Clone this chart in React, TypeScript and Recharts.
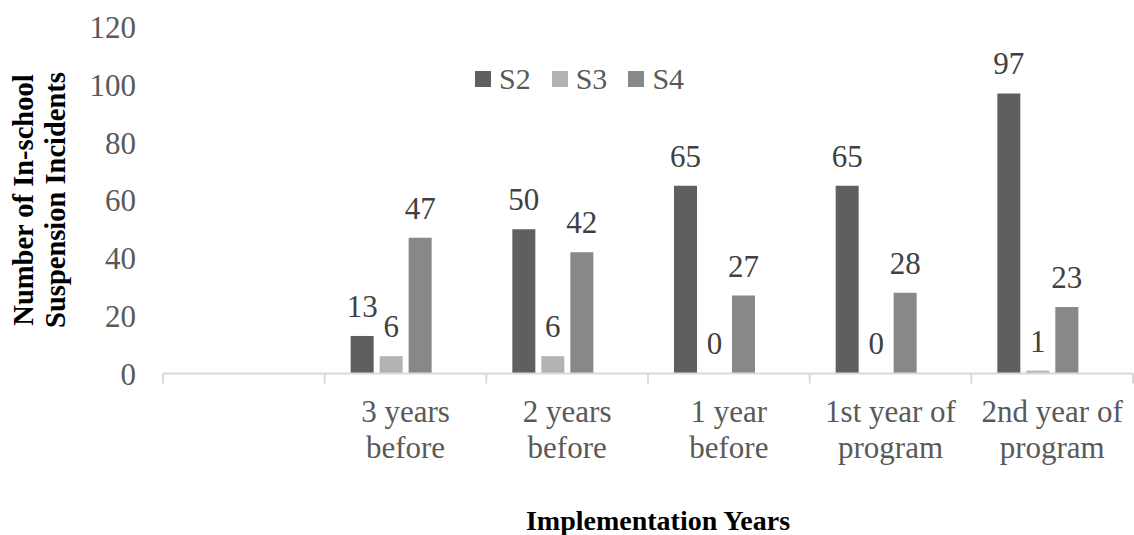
import React from "react";
import { BarChart, Bar, XAxis, YAxis, LabelList, Legend, Label } from "recharts";

// Categories (first slot intentionally blank) and series values
const years = [
  "",
  "3 years\nbefore",
  "2 years\nbefore",
  "1 year\nbefore",
  "1st year of\nprogram",
  "2nd year of\nprogram",
];
const s2 = [null, 13, 50, 65, 65, 97];
const s3 = [null, 6, 6, 0, 0, 1];
const s4 = [null, 47, 42, 27, 28, 23];
// fourth slot in each group is kept empty
const spare = [null, null, null, null, null, null];
const yTicks = [0, 20, 40, 60, 80, 100, 120];

const data = years.map((year, i) => ({
  year,
  S2: s2[i],
  S3: s3[i],
  S4: s4[i],
  spare: spare[i],
}));

const FONT = '"Liberation Serif", "Times New Roman", serif';
const TICK_COLOR = "#595959";
const LABEL_COLOR = "#404040";
const AXIS_COLOR = "#d9d9d9";

const W = 1134;
const H = 535;
const MARGIN = { top: 27, right: 1, bottom: 0, left: 0 };
const Y_AXIS_W = 163;
const X_AXIS_H = 161.5;
const PLOT_W = W - MARGIN.left - MARGIN.right - Y_AXIS_W;

const CategoryTick = (props: any) => {
  const { x, y, payload, index } = props;
  const half =
    payload && typeof payload.offset === "number" && payload.offset > 0
      ? payload.offset
      : PLOT_W / years.length / 2;
  const lines = String(payload.value).split("\n");
  return (
    <g>
      <line x1={x - half} x2={x - half} y1={y} y2={y + 10} stroke={AXIS_COLOR} strokeWidth={2} />
      {index === years.length - 1 && (
        <line x1={x + half} x2={x + half} y1={y} y2={y + 10} stroke={AXIS_COLOR} strokeWidth={2} />
      )}
      {lines.map((ln, i) => (
        <text
          key={i}
          x={x}
          y={y + 48 + i * 36}
          textAnchor="middle"
          fill={TICK_COLOR}
          fontSize={31}
          style={{ fontFamily: FONT }}
        >
          {ln}
        </text>
      ))}
    </g>
  );
};

const ValueTick = (props: any) => {
  const { x, y, payload } = props;
  return (
    <text
      x={x}
      y={y}
      dy={11}
      textAnchor="end"
      fill={TICK_COLOR}
      fontSize={31}
      style={{ fontFamily: FONT }}
    >
      {payload.value}
    </text>
  );
};

const BarValue = (props: any) => {
  const { x, y, width, height, value } = props;
  if (value === null || value === undefined) return null;
  // labels sit above the bar's top edge (baseline for zero-height bars)
  const top = Math.min(Number(y), Number(y) + Number(height || 0));
  return (
    <text
      x={Number(x) + Number(width) / 2}
      y={top - 19}
      textAnchor="middle"
      fill={LABEL_COLOR}
      fontSize={31}
      style={{ fontFamily: FONT }}
    >
      {value}
    </text>
  );
};

const YTitle = () => {
  const cy = 200;
  const common = {
    textAnchor: "middle" as const,
    fontSize: 28.5,
    fontWeight: "bold" as const,
    fill: "#000",
    style: { fontFamily: FONT },
  };
  return (
    <g>
      <text transform={`translate(33, ${cy}) rotate(-90)`} {...common}>
        Number of In-school
      </text>
      <text transform={`translate(65, ${cy}) rotate(-90)`} {...common}>
        Suspension Incidents
      </text>
    </g>
  );
};

const XTitle = (props: any) => {
  const vb = props.viewBox || {};
  const cx = (vb.x ?? 163) + (vb.width ?? 970) / 2 + 10;
  return (
    <text
      x={cx}
      y={530}
      textAnchor="middle"
      fontSize={28}
      fontWeight="bold"
      fill="#000"
      style={{ fontFamily: FONT }}
    >
      Implementation Years
    </text>
  );
};

const LegendContent = (props: any) => {
  const items = (props.payload || []).filter((p: any) => p.type !== "none");
  return (
    <div style={{ display: "flex", alignItems: "center", fontFamily: FONT }}>
      {items.map((p: any, i: number) => (
        <div
          key={p.value}
          style={{ display: "flex", alignItems: "center", marginRight: i < items.length - 1 ? 21 : 0 }}
        >
          <div style={{ width: 16, height: 16, background: p.color, marginRight: 8 }} />
          <span style={{ fontSize: 30, color: TICK_COLOR, lineHeight: "30px", fontFamily: FONT }}>
            {p.value}
          </span>
        </div>
      ))}
    </div>
  );
};

export default function App() {
  return (
    <div
      style={{
        position: "absolute",
        left: 0,
        top: 0,
        width: W,
        height: H,
        background: "#fff",
        fontFamily: FONT,
      }}
    >
      <BarChart width={W} height={H} data={data} margin={MARGIN} barSize={23} barGap={6} style={{ fontFamily: FONT }}>
        <XAxis
          dataKey="year"
          interval={0}
          height={X_AXIS_H}
          axisLine={{ stroke: AXIS_COLOR, strokeWidth: 2 }}
          tickLine={false}
          tickSize={0}
          tickMargin={0}
          tick={<CategoryTick />}
        >
          <Label content={<XTitle />} />
        </XAxis>
        <YAxis
          width={Y_AXIS_W}
          domain={[0, 120]}
          ticks={yTicks}
          interval={0}
          axisLine={false}
          tickLine={false}
          tickSize={0}
          tickMargin={27}
          tick={<ValueTick />}
        >
          <Label content={<YTitle />} />
        </YAxis>
        <Legend
          layout="horizontal"
          verticalAlign="middle"
          align="center"
          content={<LegendContent />}
          wrapperStyle={{ position: "absolute", left: 475, top: 64, width: "auto" }}
        />
        <Bar dataKey="S2" name="S2" fill="#5f5f5f" isAnimationActive={false}>
          <LabelList dataKey="S2" content={<BarValue />} />
        </Bar>
        <Bar dataKey="S3" name="S3" fill="#b3b3b3" minPointSize={0.01} isAnimationActive={false}>
          <LabelList dataKey="S3" content={<BarValue />} />
        </Bar>
        <Bar dataKey="S4" name="S4" fill="#888888" isAnimationActive={false}>
          <LabelList dataKey="S4" content={<BarValue />} />
        </Bar>
        <Bar dataKey="spare" fill="#ffffff" legendType="none" isAnimationActive={false} />
      </BarChart>
    </div>
  );
}
